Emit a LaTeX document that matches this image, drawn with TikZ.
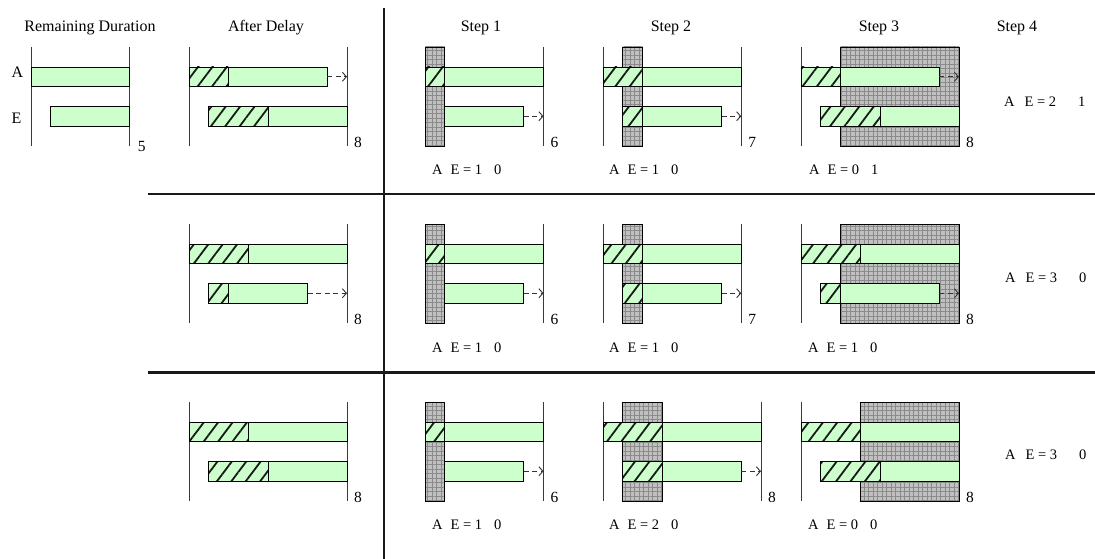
\documentclass[tikz,border=0pt]{standalone}
\usepackage{fontspec}
\setmainfont{Liberation Serif}
\usetikzlibrary{arrows.meta,patterns.meta}

\definecolor{barfill}{HTML}{CCFFCC}
\definecolor{gridfill}{HTML}{C0C0C0}
\definecolor{gridline}{HTML}{8A8A8A}
\definecolor{axis}{HTML}{3A3A3A}

% one time unit, in pt
\def\u{19.75}

\tikzset{
  gbar/.style={draw=black, line width=0.9pt, fill=barfill, inner sep=0pt,
    outer sep=0pt, minimum height=19.5pt},
  hbar/.style={draw=black, line width=0.9pt, inner sep=0pt, outer sep=0pt,
    minimum height=19.5pt, preaction={fill=barfill},
    pattern={Lines[angle=53,distance=11.5pt,line width=1.8pt]}, pattern color=black!90},
  busy/.style={draw=black, line width=0.9pt, preaction={fill=gridfill},
    pattern={Hatch[distance=4.5pt,line width=0.5pt]}, pattern color=gridline},
  axisline/.style={draw=axis, line width=1pt},
  divider/.style={draw=black!90, line width=2.4pt},
  slack/.style={draw=black!80, line width=0.9pt, dash pattern=on 5pt off 3.5pt,
    -{Straight Barb[length=4pt,width=9pt]}},
  header/.style={font=\fontsize{16}{19}\selectfont, inner sep=0pt, anchor=base},
  num/.style={font=\fontsize{15.5}{18}\selectfont, inner sep=0pt, anchor=west},
  cost/.style={font=\fontsize{14.5}{17}\selectfont, inner sep=0pt, anchor=base west},
}

% \axes{name}{left x}{units}{top of bar A}
\newcommand\axes[4]{%
  \coordinate (#1L) at (#2,#4-20);
  \coordinate (#1R) at ({#2+#3*\u},#4-20);
  \draw[axisline] (#1L) -- ++(0,99);
  \draw[axisline] (#1R) -- ++(0,99);
}
% \busyblock{left x}{from unit}{to unit}{top of bar A}
\newcommand\busyblock[4]{%
  \path[busy] ({#1+#2*\u},#4-20) rectangle ({#1+#3*\u},#4+79);
}
% \gbar{name}{left x}{start unit}{length}{delayed units}{top}
\newcommand\gbar[6]{%
  \node[gbar, minimum width={#4*\u pt}, anchor=north west] (#1) at ({#2+#3*\u},#6) {};
  \ifdim #5pt>0pt
    \node[hbar, minimum width={#5*\u pt}, anchor=north west] (#1h) at ({#2+#3*\u},#6) {};
  \fi
}
% \slackto{bar}{panel}
\newcommand\slackto[2]{\draw[slack] (#1.east) -- (#1.east -| #2R);}
% \spanlabel{panel}{number}
\newcommand\spanlabel[2]{\node[num] (#1n) at ([shift={(7,95)}]#1R) {#2};}
% \costlabel{name}{x}{baseline}{value 1}{value 2}
\newcommand\costlabel[5]{\node[cost] (#1) at (#2,#3) {A\hspace{8pt}E = #4\hspace{12pt}#5};}

\begin{document}
\begin{tikzpicture}[x=1pt,y=-1pt]
\useasboundingbox (0,0) rectangle (1095,559);

% column headings
\node[header] (hRD) at (90,32) {Remaining Duration};
\node[header] (hAD) at (266,32) {After Delay};
\node[header] (hS1) at (481,32) {Step 1};
\node[header] (hS2) at (671,32) {Step 2};
\node[header] (hS3) at (879,32) {Step 3};
\node[header] (hS4) at (1017,32) {Step 4};

% frame
\coordinate (vTop) at (384,8);
\coordinate (vBot) at (384,559);
\coordinate (h1L) at (148,194);
\coordinate (h1R) at (1095,194);
\coordinate (h2L) at (148,372.5);
\coordinate (h2R) at (1095,372.5);
\draw[divider] (vTop) -- (vBot);
\draw[divider] (h1L) -- (h1R);
\draw[divider] (h2L) -- (h2R);

% activity names
\node[header] (lblA) at (17.5,77.5) {A};
\node[header] (lblE) at (16.5,124) {E};

%%%%%%%% first row
\def\rtop{67}
\def\rlow{106.5}
% remaining duration
\axes{rd}{31}{5}{\rtop}
\gbar{rdA}{31}{0}{5}{0}{\rtop}
\gbar{rdE}{31}{1}{4}{0}{\rlow}
\node[num] (rdn) at ([shift={(8,100)}]rdR) {5};
% after delay
\axes{adI}{189}{8}{\rtop}
\gbar{adIA}{189}{0}{7}{2}{\rtop}
\gbar{adIE}{189}{1}{7}{3}{\rlow}
\slackto{adIA}{adI}
\spanlabel{adI}{8}
% step 1
\axes{sIa}{425}{6}{\rtop}
\busyblock{425}{0}{1}{\rtop}
\gbar{sIaA}{425}{0}{6}{1}{\rtop}
\gbar{sIaE}{425}{1}{4}{0}{\rlow}
\slackto{sIaE}{sIa}
\spanlabel{sIa}{6}
\costlabel{cIa}{432}{175}{1}{0}
% step 2
\axes{sIb}{603}{7}{\rtop}
\busyblock{603}{1}{2}{\rtop}
\gbar{sIbA}{603}{0}{7}{2}{\rtop}
\gbar{sIbE}{603}{1}{5}{1}{\rlow}
\slackto{sIbE}{sIb}
\spanlabel{sIb}{7}
\costlabel{cIb}{609}{175}{1}{0}
% step 3
\axes{sIc}{801}{8}{\rtop}
\busyblock{801}{2}{8}{\rtop}
\gbar{sIcA}{801}{0}{7}{2}{\rtop}
\gbar{sIcE}{801}{1}{7}{3}{\rlow}
\slackto{sIcA}{sIc}
\spanlabel{sIc}{8}
\costlabel{cIc}{809}{175}{0}{1}
% step 4
\node[cost] (cId) at (1004,107) {A\hspace{10pt}E = 2\hspace{22pt}1};

%%%%%%%% second row
\def\rtop{244}
\def\rlow{283.5}
\axes{adII}{189}{8}{\rtop}
\gbar{adIIA}{189}{0}{8}{3}{\rtop}
\gbar{adIIE}{189}{1}{5}{1}{\rlow}
\slackto{adIIE}{adII}
\spanlabel{adII}{8}
% step 1
\axes{sIIa}{425}{6}{\rtop}
\busyblock{425}{0}{1}{\rtop}
\gbar{sIIaA}{425}{0}{6}{1}{\rtop}
\gbar{sIIaE}{425}{1}{4}{0}{\rlow}
\slackto{sIIaE}{sIIa}
\spanlabel{sIIa}{6}
\costlabel{cIIa}{432}{352}{1}{0}
% step 2
\axes{sIIb}{603}{7}{\rtop}
\busyblock{603}{1}{2}{\rtop}
\gbar{sIIbA}{603}{0}{7}{2}{\rtop}
\gbar{sIIbE}{603}{1}{5}{1}{\rlow}
\slackto{sIIbE}{sIIb}
\spanlabel{sIIb}{7}
\costlabel{cIIb}{609}{352}{1}{0}
% step 3
\axes{sIIc}{801}{8}{\rtop}
\busyblock{801}{2}{8}{\rtop}
\gbar{sIIcA}{801}{0}{8}{3}{\rtop}
\gbar{sIIcE}{801}{1}{6}{1}{\rlow}
\slackto{sIIcE}{sIIc}
\spanlabel{sIIc}{8}
\costlabel{cIIc}{808}{352}{1}{0}
% step 4
\node[cost] (cIId) at (1005,282) {A\hspace{10pt}E = 3\hspace{22pt}0};

%%%%%%%% third row
\def\rtop{422}
\def\rlow{461.5}
\axes{adIII}{189}{8}{\rtop}
\gbar{adIIIA}{189}{0}{8}{3}{\rtop}
\gbar{adIIIE}{189}{1}{7}{3}{\rlow}
\spanlabel{adIII}{8}
% step 1
\axes{sIIIa}{425}{6}{\rtop}
\busyblock{425}{0}{1}{\rtop}
\gbar{sIIIaA}{425}{0}{6}{1}{\rtop}
\gbar{sIIIaE}{425}{1}{4}{0}{\rlow}
\slackto{sIIIaE}{sIIIa}
\spanlabel{sIIIa}{6}
\costlabel{cIIIa}{432}{529.5}{1}{0}
% step 2
\axes{sIIIb}{603}{8}{\rtop}
\busyblock{603}{1}{3}{\rtop}
\gbar{sIIIbA}{603}{0}{8}{3}{\rtop}
\gbar{sIIIbE}{603}{1}{6}{2}{\rlow}
\slackto{sIIIbE}{sIIIb}
\spanlabel{sIIIb}{8}
\costlabel{cIIIb}{609}{529.5}{2}{0}
% step 3
\axes{sIIIc}{801}{8}{\rtop}
\busyblock{801}{3}{8}{\rtop}
\gbar{sIIIcA}{801}{0}{8}{3}{\rtop}
\gbar{sIIIcE}{801}{1}{7}{3}{\rlow}
\spanlabel{sIIIc}{8}
\costlabel{cIIIc}{808}{529.5}{0}{0}
% step 4
\node[cost] (cIIId) at (1005,459) {A\hspace{10pt}E = 3\hspace{22pt}0};
\end{tikzpicture}
\end{document}
